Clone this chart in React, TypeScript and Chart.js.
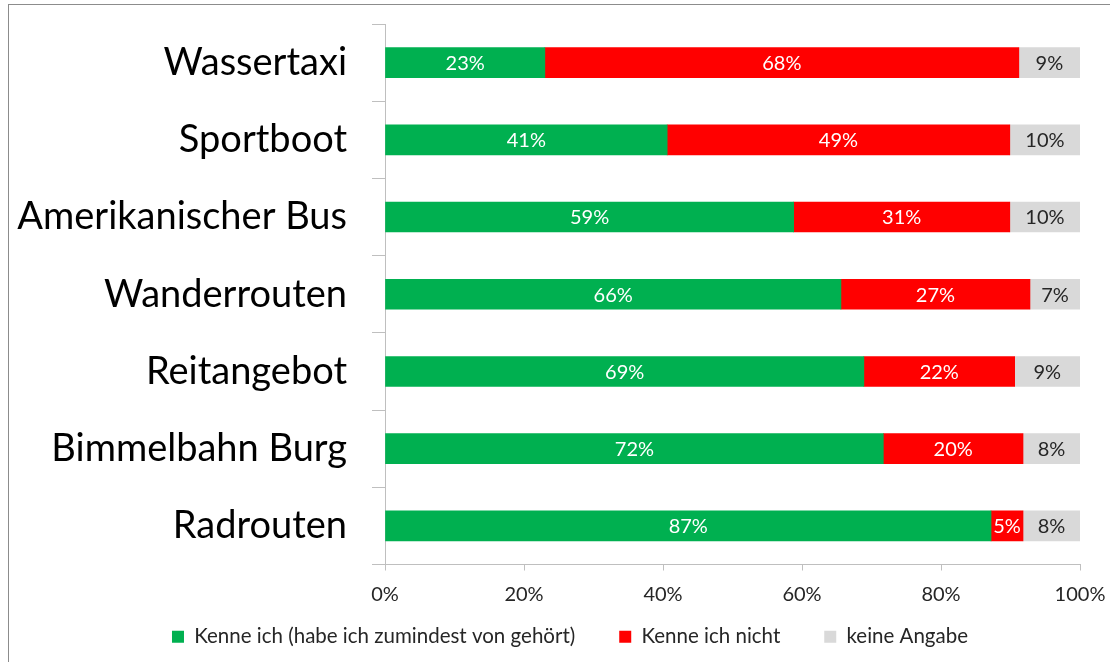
import React, { useEffect, useRef } from "react";
import { Chart, registerables } from "chart.js";

Chart.register(...registerables);

const categories = [
  "Wassertaxi",
  "Sportboot",
  "Amerikanischer Bus",
  "Wanderrouten",
  "Reitangebot",
  "Bimmelbahn Burg",
  "Radrouten",
];
const kenneIch = [23.0, 40.6, 58.8, 65.6, 68.9, 71.7, 87.2];
const kenneNicht = [68.2, 49.3, 31.1, 27.2, 21.7, 20.1, 4.6];
const keineAngabe = [8.8, 10.1, 10.1, 7.2, 9.4, 8.2, 8.2];
const seriesNames = [
  "Kenne ich (habe ich zumindest von gehört)",
  "Kenne ich nicht",
  "keine Angabe",
];
const xTicks = [0, 20, 40, 60, 80, 100];

const FONT = "Lato, 'Open Sans', sans-serif";

const labelPlugin = {
  id: "barLabels",
  afterDatasetsDraw(chart: any) {
    const ctx = chart.ctx;
    ctx.save();
    ctx.font = `20px ${FONT}`;
    ctx.textAlign = "center";
    ctx.textBaseline = "middle";
    chart.data.datasets.forEach((ds: any, di: number) => {
      const meta = chart.getDatasetMeta(di);
      meta.data.forEach((el: any, i: number) => {
        const v = ds.data[i];
        const x = (el.x + el.base) / 2;
        ctx.fillStyle = di === 2 ? "#262626" : "#ffffff";
        ctx.fillText(Math.round(v) + "%", x, el.y + 1);
      });
    });
    ctx.restore();
  },
};

export default function App() {
  const ref = useRef<HTMLCanvasElement | null>(null);
  useEffect(() => {
    if (!ref.current) return;
    const chart = new Chart(ref.current, {
      type: "bar",
      data: {
        labels: categories,
        datasets: [
          { label: seriesNames[0], data: kenneIch, backgroundColor: "#00b050" },
          { label: seriesNames[1], data: kenneNicht, backgroundColor: "#ff0000" },
          { label: seriesNames[2], data: keineAngabe, backgroundColor: "#d9d9d9" },
        ],
      },
      options: {
        indexAxis: "y",
        responsive: false,
        animation: false,
        maintainAspectRatio: false,
        datasets: { bar: { barThickness: 30 } },
        layout: { padding: { top: 24, right: 0, bottom: 5, left: 30 } },
        plugins: {
          tooltip: { enabled: false },
          legend: {
            position: "bottom",
            labels: {
              boxWidth: 12,
              boxHeight: 12,
              padding: 44,
              color: "#262626",
              font: { family: FONT, size: 20.5 },
            },
          },
        },
        scales: {
          x: {
            stacked: true,
            min: 0,
            max: 100,
            afterBuildTicks(scale: any) {
              scale.ticks = xTicks.map((v) => ({ value: v }));
            },
            afterFit(scale: any) {
              scale.height = 18;
              scale.paddingTop = 0;
              scale.paddingBottom = 0;
              scale.paddingLeft = 0;
              scale.paddingRight = 30;
              scale._computeLabelArea = () => undefined;
            },
            grid: {
              drawOnChartArea: false,
              drawTicks: true,
              tickLength: 6,
              color: "#bfbfbf",
            },
            border: { display: true, color: "#bfbfbf" },
            ticks: {
              padding: 12,
              color: "#262626",
              font: { family: FONT, size: 20 },
              callback: (v: any) => v + "%",
            },
          },
          y: {
            stacked: true,
            afterFit(scale: any) {
              scale.width = 355;
              scale.paddingTop = 0;
              scale.paddingBottom = 0;
              scale._computeLabelArea = () => undefined;
            },
            grid: {
              drawOnChartArea: false,
              drawTicks: true,
              tickLength: 13,
              color: "#bfbfbf",
              offset: true,
            },
            border: { display: true, color: "#bfbfbf" },
            ticks: {
              padding: 25,
              color: "#000000",
              font: { family: FONT, size: 38 },
            },
          },
        },
      },
      plugins: [labelPlugin],
    } as any);
    return () => chart.destroy();
  }, []);
  return (
    <div style={{ position: "fixed", left: 0, top: 0, width: 1110, height: 662, background: "#fff" }}>
      <div
        style={{
          position: "absolute",
          left: 8,
          top: 4,
          width: 1120,
          height: 680,
          borderLeft: "1px solid #8c8c8c",
          borderTop: "1px solid #8c8c8c",
        }}
      />
      <canvas ref={ref} width={1110} height={662} style={{ position: "absolute", left: 0, top: 0 }} />
    </div>
  );
}
